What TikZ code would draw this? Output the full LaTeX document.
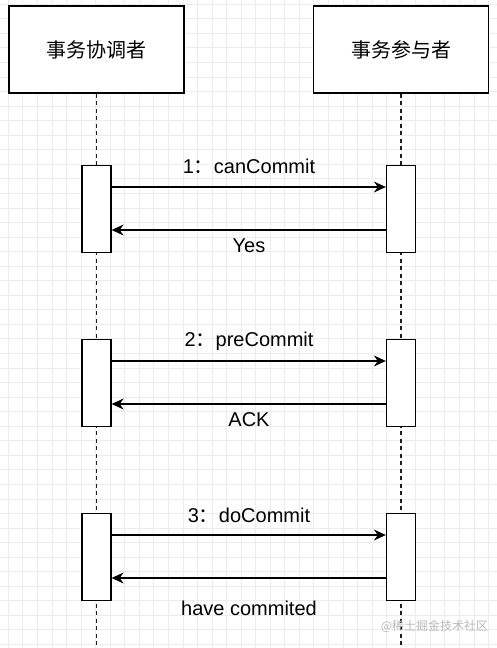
\documentclass[tikz,border=0pt]{standalone}
\usepackage{fontspec}
\setmainfont{Liberation Sans}
\newfontfamily\cjk{Noto Sans CJK SC}
\usetikzlibrary{arrows.meta}

\begin{document}
\begin{tikzpicture}[x=1pt, y=-1pt]
      % Define sizes
      \def\actwidth{29pt}
      \def\actheight{87pt}

      % Define colors
      \definecolor{gridline}{RGB}{236,236,236}
      \definecolor{lifeline}{RGB}{30,30,30}
      \definecolor{mark}{RGB}{185,185,185}

      \tikzset{
        role/.style={draw, line width=1.3pt, fill=white, minimum width=175pt, minimum height=87pt, font=\fontsize{20}{24}\selectfont\cjk},
        act/.style={draw, line width=1.3pt, fill=white, minimum width=\actwidth, minimum height=\actheight},
        msg/.style={line width=1.2pt, -{Stealth[length=12pt, width=11pt, inset=4pt]}},
        life/.style={draw=lifeline, line width=1.5pt, dash pattern=on 4pt off 3.5pt},
        lbl/.style={font=\fontsize{20}{24}\selectfont}
      }

      % Background grid
      \useasboundingbox (0,0) rectangle (497,648);
      \fill[white] (0,0) rectangle (497,648);
      \foreach \gx in {0,...,33} {
        \draw[gridline, line width=0.8pt] ({8.3+14.55*\gx},0) -- ({8.3+14.55*\gx},648);
      }
      \foreach \gy in {0,...,44} {
        \draw[gridline, line width=0.8pt] (0,{4.2+14.55*\gy}) -- (497,{4.2+14.55*\gy});
      }

      % Lifeline ends
      \coordinate (Cend) at (96.5,648);
      \coordinate (Pend) at (401,648);

      % Roles
      \node[role] (C) at (96.5,49.5) {事务协调者};
      \node[role] (P) at (401,49.5) {事务参与者};

      % Lifelines
      \draw[life] (C.south) -- (Cend);
      \draw[life] (P.south) -- (Pend);

      % Activations of the coordinator
      \node[act] (C1) at (96.5,209) {};
      \node[act] (C2) at (96.5,383) {};
      \node[act] (C3) at (96.5,557) {};

      % Activations of the participant
      \node[act] (P1) at (401,209) {};
      \node[act] (P2) at (401,383) {};
      \node[act] (P3) at (401,557) {};

      % Requests
      \draw[msg] ([yshift=22pt]C1.east) -- ([yshift=22pt]P1.west);
      \draw[msg] ([yshift=22pt]C2.east) -- ([yshift=22pt]P2.west);
      \draw[msg] ([yshift=22pt]C3.east) -- ([yshift=22pt]P3.west);

      % Replies
      \draw[msg] ([yshift=-21pt]P1.west) -- ([yshift=-21pt]C1.east);
      \draw[msg] ([yshift=-21pt]P2.west) -- ([yshift=-21pt]C2.east);
      \draw[msg] ([yshift=-21pt]P3.west) -- ([yshift=-21pt]C3.east);

      % Labels
      \node[lbl] (L1) at (249,166) {1{\cjk ：}canCommit};
      \node[lbl] (R1) at (249,246) {Yes};
      \node[lbl] (L2) at (249,341) {2{\cjk ：}preCommit};
      \node[lbl] (R2) at (249,420) {ACK};
      \node[lbl] (L3) at (249,515) {3{\cjk ：}doCommit};
      \node[lbl] (R3) at (249,608) {have commited};

      % Watermark
      \node[text=mark, font=\fontsize{12}{14}\selectfont\cjk] (W) at (434.5,626) {@稀土掘金技术社区};

    \end{tikzpicture}
\end{document}
